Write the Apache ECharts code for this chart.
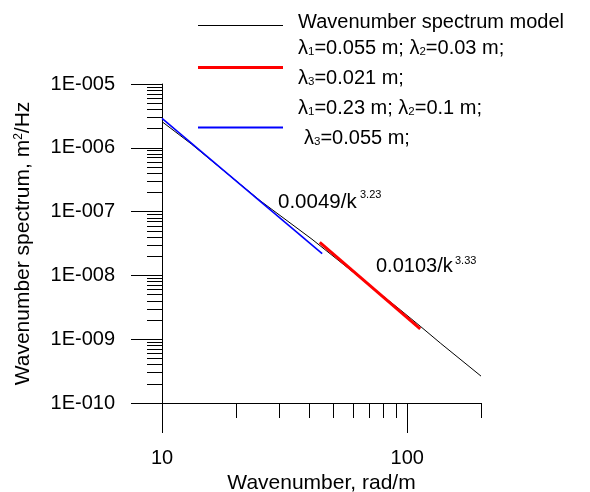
<!DOCTYPE html>
<html><head><meta charset="utf-8">
<script src="https://cdn.jsdelivr.net/npm/echarts@6/dist/echarts.min.js"></script>
<style>html,body{margin:0;padding:0;background:#fff}#c{width:590px;height:492px}</style>
</head><body><div id="c"></div>
<script>
// Wavenumber spectrum model (black)
const modelK = [10, 13.2, 25.1, 40.9, 93.9, 113, 137, 200];
const modelS = [2.57e-6, 1.14e-6, 1.49e-7, 3.69e-8, 2.87e-9, 1.6e-9, 8.6e-10, 2.64e-10];
// fit 0.0103/k^3.33 (red)
const redK = [44, 113];
const redS = [3.3e-8, 1.45e-9];
// fit 0.0049/k^3.23 (blue)
const blueK = [10, 45];
const blueS = [2.9e-6, 2.2e-8];
// ticks
const xMajorTicks = [10, 100];
const xMinorTicks = [20, 30, 40, 50, 60, 70, 80, 90, 200];
const yMajorTicks = [1e-10, 1e-9, 1e-8, 1e-7, 1e-6, 1e-5];
const yMinorTicks = [
  2e-10, 3e-10, 4e-10, 5e-10, 6e-10, 7e-10, 8e-10, 9e-10,
  2e-9, 3e-9, 4e-9, 5e-9, 6e-9, 7e-9, 8e-9, 9e-9,
  2e-8, 3e-8, 4e-8, 5e-8, 6e-8, 7e-8, 8e-8, 9e-8,
  2e-7, 3e-7, 4e-7, 5e-7, 6e-7, 7e-7, 8e-7, 9e-7,
  2e-6, 3e-6, 4e-6, 5e-6, 6e-6, 7e-6, 8e-6, 9e-6
];

const FONT = '"Liberation Sans", Arial, sans-serif';
const zip = (a, b) => a.map((v, i) => [v, b[i]]);
const yFmt = v => {
  const e = Math.round(Math.log10(v));
  return '1E' + (e < 0 ? '-' : '+') + String(Math.abs(e)).padStart(3, '0');
};

const chart = echarts.init(document.getElementById('c'), null, {renderer: 'canvas'});
const axisLine = {show: true, lineStyle: {color: '#000', width: 1}};
const gridPos = {left: 162, right: 109, top: 84, bottom: 89, containLabel: false, outerBoundsMode: 'none'};
const LF = 20;
const richLegend = {l: {fontSize: LF, fontFamily: FONT, fill: '#000'}, s: {fontSize: 11.5, fontFamily: FONT, fill: '#000', verticalAlign: 'bottom'}};

chart.setOption({
  animation: false,
  backgroundColor: '#fff',
  grid: gridPos,
  xAxis: [{
    type: 'log', logBase: 10, min: 10, max: 200, position: 'bottom',
    axisLine: axisLine,
    axisTick: {show: true, inside: false, length: 30, customValues: xMajorTicks, lineStyle: {color: '#000'}},
    axisLabel: {show: true, customValues: xMajorTicks, margin: 45, color: '#000', fontSize: 20, fontFamily: FONT},
    splitLine: {show: false}, minorTick: {show: false},
    name: 'Wavenumber, rad/m', nameLocation: 'middle', nameGap: 66,
    nameTextStyle: {color: '#000', fontSize: 21, fontFamily: FONT}
  }, {
    type: 'log', logBase: 10, min: 10, max: 200, position: 'bottom',
    axisLine: {show: false},
    axisTick: {show: true, inside: false, length: 15, customValues: xMinorTicks, lineStyle: {color: '#000'}},
    axisLabel: {show: false}, splitLine: {show: false}
  }],
  yAxis: [{
    type: 'log', logBase: 10, min: 1e-10, max: 1e-5, position: 'left',
    axisLine: axisLine,
    axisTick: {show: true, inside: false, length: 31, customValues: yMajorTicks, lineStyle: {color: '#000'}},
    axisLabel: {show: true, customValues: yMajorTicks, formatter: yFmt, margin: 47, color: '#000', fontSize: 20, fontFamily: FONT, padding: [0, 0, 4, 0]},
    splitLine: {show: false}, minorTick: {show: false},
    name: '{t|Wavenumber spectrum, m}{sup|2}{t|/Hz}', nameLocation: 'middle', nameGap: 128, nameRotate: 90,
    nameTextStyle: {color: '#000', fontSize: 21, fontFamily: FONT,
      rich: {t: {fontSize: 21, fontFamily: FONT, color: '#000'},
             sup: {fontSize: 12, fontFamily: FONT, color: '#000', verticalAlign: 'top'}}}
  }, {
    type: 'log', logBase: 10, min: 1e-10, max: 1e-5, position: 'left',
    axisLine: {show: false},
    axisTick: {show: true, inside: false, length: 15, customValues: yMinorTicks, lineStyle: {color: '#000'}},
    axisLabel: {show: false}, splitLine: {show: false}
  }],
  series: [
    {type: 'line', name: 'model', xAxisIndex: 0, yAxisIndex: 0, data: zip(modelK, modelS),
     showSymbol: false, symbol: 'none', lineStyle: {color: '#000', width: 1}, z: 2},
    {type: 'line', name: 'red', xAxisIndex: 0, yAxisIndex: 0, data: zip(redK, redS),
     showSymbol: false, symbol: 'none', lineStyle: {color: '#ff0000', width: 3}, z: 3},
    {type: 'line', name: 'blue', xAxisIndex: 0, yAxisIndex: 0, data: zip(blueK, blueS),
     showSymbol: false, symbol: 'none', lineStyle: {color: '#0000ff', width: 1.6}, z: 4}
  ],
  graphic: [
    {type: 'line', shape: {x1: 198, y1: 25.5, x2: 283, y2: 25.5}, style: {stroke: '#000', lineWidth: 1}},
    {type: 'line', shape: {x1: 198, y1: 67.5, x2: 283, y2: 67.5}, style: {stroke: '#ff0000', lineWidth: 3}},
    {type: 'line', shape: {x1: 198, y1: 127.5, x2: 283, y2: 127.5}, style: {stroke: '#0000ff', lineWidth: 2}},
    {type: 'text', x: 298, y: 22, style: {text: 'Wavenumber spectrum model', fill: '#000', font: LF + 'px ' + FONT, verticalAlign: 'middle'}},
    {type: 'text', x: 298, y: 48, style: {text: '{l|λ}{s|1}{l|=0.055 m; λ}{s|2}{l|=0.03 m;}', verticalAlign: 'middle', rich: richLegend}},
    {type: 'text', x: 298, y: 78, style: {text: '{l|λ}{s|3}{l|=0.021 m;}', verticalAlign: 'middle', rich: richLegend}},
    {type: 'text', x: 298, y: 108, style: {text: '{l|λ}{s|1}{l|=0.23 m; λ}{s|2}{l|=0.1 m;}', verticalAlign: 'middle', rich: richLegend}},
    {type: 'text', x: 304, y: 138, style: {text: '{l|λ}{s|3}{l|=0.055 m;}', verticalAlign: 'middle', rich: richLegend}},
    {type: 'text', x: 278, y: 202, style: {text: '0.0049/k', fill: '#000', font: '20.5px ' + FONT, verticalAlign: 'middle'}},
    {type: 'text', x: 360, y: 195, style: {text: '3.23', fill: '#000', font: '11px ' + FONT, verticalAlign: 'middle'}},
    {type: 'text', x: 376, y: 266, style: {text: '0.0103/k', fill: '#000', font: '20px ' + FONT, verticalAlign: 'middle'}},
    {type: 'text', x: 455, y: 261, style: {text: '3.33', fill: '#000', font: '11px ' + FONT, verticalAlign: 'middle'}}
  ]
});
</script>
</body></html>
